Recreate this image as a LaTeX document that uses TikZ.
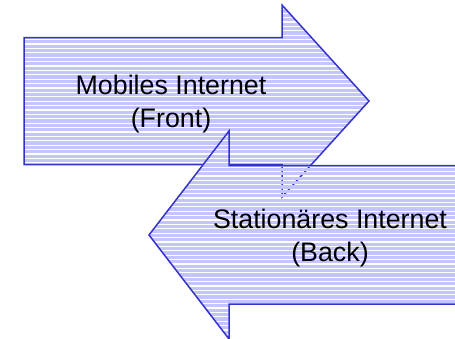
\documentclass[tikz,border=0pt]{standalone}
\usepackage{fontspec}
\setmainfont{Liberation Sans}
\definecolor{edgeblue}{RGB}{51,51,204}
\definecolor{hatchblue}{RGB}{196,196,255}
\begin{document}
\begin{tikzpicture}[x=1pt,y=-1pt]
\tikzstyle{outline}=[draw=edgeblue,line width=1.5pt,line join=miter]
\tikzstyle{hatch}=[hatchblue,line width=3.3pt]
\tikzstyle{caption}=[align=center,font=\fontsize{26.8}{33}\selectfont]
\useasboundingbox (0,0) rectangle (455,338);
\clip (0,0) rectangle (455,338);
% front arrow, pointing right
\coordinate (F1) at (24,37.7);
\coordinate (F2) at (282,37.7);
\coordinate (F3) at (282,5);
\coordinate (F4) at (369,101);
\coordinate (F5) at (282,197);
\coordinate (F6) at (282,164.5);
\coordinate (F7) at (24,164.5);
\def\frontarrow{(F1) -- (F2) -- (F3) -- (F4) -- (F5) -- (F6) -- (F7) -- cycle}
% back arrow, pointing left
\coordinate (B1) at (149,235);
\coordinate (B2) at (229,131);
\coordinate (B3) at (229,165.5);
\coordinate (B4) at (470,165.5);
\coordinate (B5) at (470,304);
\coordinate (B6) at (229,304);
\coordinate (B7) at (229,339);
\def\backarrow{(B1) -- (B2) -- (B3) -- (B4) -- (B5) -- (B6) -- (B7) -- cycle}
\begin{scope}
\clip \frontarrow;
\foreach \y in {2.2,6.6,...,200}
	\draw[hatch] (20,\y) -- (375,\y);
\end{scope}
\draw[outline] \frontarrow;
\begin{scope}
\clip \backarrow;
\foreach \y in {2.2,6.6,...,342}
	\draw[hatch] (145,\y) -- (475,\y);
\end{scope}
\draw[outline] \backarrow;
\node[caption] (front) at (171,104) {Mobiles Internet\\(Front)};
\node[caption] (back) at (330,238) {Stationäres Internet\\(Back)};
\end{tikzpicture}
\end{document}
